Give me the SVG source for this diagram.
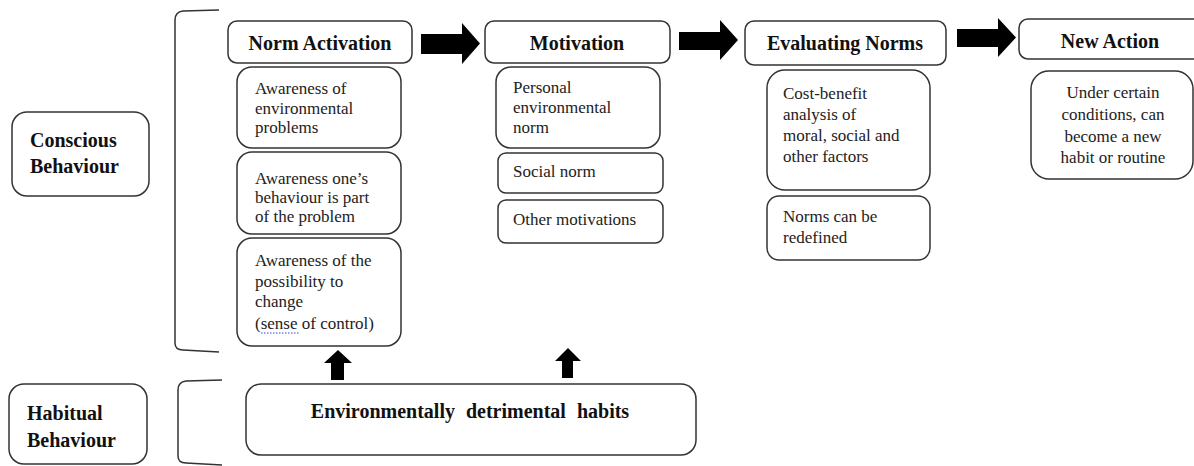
<svg xmlns="http://www.w3.org/2000/svg" width="1194" height="466" viewBox="0 0 1194 466">
<style>
.box{fill:#fff;stroke:#333;stroke-width:1.5}
.br{fill:none;stroke:#333;stroke-width:1.5}
.h{font-family:'Liberation Serif','Times New Roman','DejaVu Serif',serif;font-weight:bold;font-size:20px;fill:#111}
.t{font-family:'Liberation Serif','Times New Roman','DejaVu Serif',serif;font-size:17px;fill:#222}
.c{text-anchor:middle}
.arr{fill:#000}
</style>
<rect width="1194" height="466" fill="#fff"/>
<g id="brackets">
<path class="br" d="M219,10 L183,11 Q175,12 175,20 L175,343 Q175,350 183,350 L219,352"/>
<path class="br" d="M222,380 L186,381 Q178,382 178,390 L178,456 Q178,463 186,463 L222,465"/>
</g>
<g id="conscious">
<rect class="box" x="12" y="112" width="137" height="84" rx="15"/>
<text class="h" x="30" y="147">Conscious</text>
<text class="h" x="30" y="173">Behaviour</text>
</g>
<g id="habitual">
<rect class="box" x="9" y="384" width="138" height="80" rx="15"/>
<text class="h" x="27" y="420">Habitual</text>
<text class="h" x="27" y="447">Behaviour</text>
</g>
<g id="norm-activation">
<rect class="box" x="228" y="21" width="184" height="42" rx="9"/>
<text class="h c" x="320" y="50">Norm Activation</text>
</g>
<g id="awareness-problems">
<rect class="box" x="237" y="67" width="164" height="81" rx="15"/>
<text class="t" x="255" y="94">Awareness of</text>
<text class="t" x="255" y="114">environmental</text>
<text class="t" x="255" y="133">problems</text>
</g>
<g id="awareness-behaviour">
<rect class="box" x="237" y="152" width="164" height="82" rx="15"/>
<text class="t" x="255" y="184">Awareness one’s</text>
<text class="t" x="255" y="203">behaviour is part</text>
<text class="t" x="255" y="222">of the problem</text>
</g>
<g id="awareness-change">
<rect class="box" x="237" y="238" width="164" height="108" rx="15"/>
<text class="t" x="255" y="266">Awareness of the</text>
<text class="t" x="255" y="287">possibility to</text>
<text class="t" x="255" y="307">change</text>
<text class="t" x="255" y="329">(sense of control)</text>
<line x1="261" y1="333" x2="300" y2="333" stroke="#3344dd" stroke-width="1" stroke-dasharray="1.5,1.5"/>
</g>
<g id="motivation">
<rect class="box" x="485" y="21" width="185" height="42" rx="9"/>
<text class="h c" x="577" y="50">Motivation</text>
</g>
<g id="personal-norm">
<rect class="box" x="496" y="67" width="164" height="81" rx="15"/>
<text class="t" x="513" y="93">Personal</text>
<text class="t" x="513" y="113">environmental</text>
<text class="t" x="513" y="133">norm</text>
</g>
<g id="social-norm">
<rect class="box" x="498" y="153" width="165" height="40" rx="8"/>
<text class="t" x="513" y="177">Social norm</text>
</g>
<g id="other-motivations">
<rect class="box" x="498" y="200" width="165" height="43" rx="8"/>
<text class="t" x="513" y="225">Other motivations</text>
</g>
<g id="evaluating-norms">
<rect class="box" x="745" y="21" width="201" height="44" rx="9"/>
<text class="h c" x="845" y="50">Evaluating Norms</text>
</g>
<g id="cost-benefit">
<rect class="box" x="767" y="70" width="163" height="120" rx="18"/>
<text class="t" x="783" y="99">Cost-benefit</text>
<text class="t" x="783" y="120">analysis of</text>
<text class="t" x="783" y="141">moral, social and</text>
<text class="t" x="783" y="162">other factors</text>
</g>
<g id="norms-redefined">
<rect class="box" x="767" y="196" width="163" height="64" rx="12"/>
<text class="t" x="783" y="222">Norms can be</text>
<text class="t" x="783" y="243">redefined</text>
</g>
<g id="new-action">
<rect class="box" x="1019" y="19" width="185" height="40" rx="9"/>
<text class="h c" x="1110" y="48">New Action</text>
</g>
<g id="new-habit">
<rect class="box" x="1031" y="71" width="162" height="108" rx="18"/>
<text class="t c" x="1113" y="98">Under certain</text>
<text class="t c" x="1113" y="120">conditions, can</text>
<text class="t c" x="1113" y="142">become a new</text>
<text class="t c" x="1113" y="163">habit or routine</text>
</g>
<g id="habits">
<rect class="box" x="246" y="384" width="450" height="71" rx="15"/>
<text class="h c" x="470" y="418" word-spacing="6">Environmentally detrimental habits</text>
</g>
<g id="connectors">
<polygon class="arr" points="421,34 462,34 462,23 480,43.5 462,64 462,54 421,54"/>
<polygon class="arr" points="679,32 720,32 720,20 738,40 720,60 720,50 679,50"/>
<polygon class="arr" points="957,29 998,29 998,18 1016,37.5 998,57 998,47 957,47"/>
<polygon class="arr" points="331,380 331,363 324,363 338,350 352,363 344,363 344,380"/>
<polygon class="arr" points="562,378 562,361 555,361 568,348 581,361 573,361 573,378"/>
</g>
</svg>
